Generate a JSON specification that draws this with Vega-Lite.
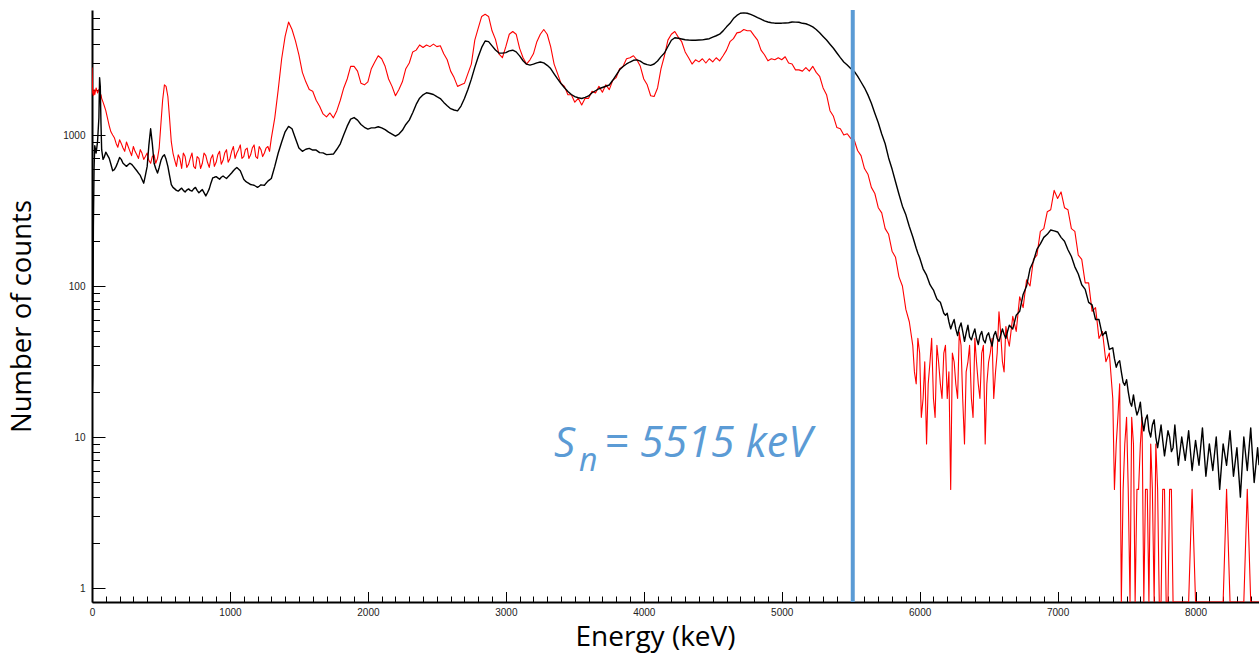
{
"$schema": "https://vega.github.io/schema/vega-lite/v6.json",
"width": 1167,
"height": 592,
"autosize": {"type": "none"},
"padding": {"left": 92, "top": 10, "right": 0, "bottom": 52},
"background": "white",
"config": {"view": {"stroke": null}, "axis": {"grid": false}},
"data": {"values": [
{"e":0,"r":2800,"b":16},{"e":5,"r":1900,"b":25},{"e":10,"r":1830,"b":250},{"e":15,"r":2000,"b":600},{"e":20,"r":1850,"b":850},{"e":30,"r":2050,"b":760},{"e":40,"r":1900,"b":900},{"e":50,"r":2000,"b":1300},{"e":55,"r":1950,"b":2400},{"e":60,"r":1800,"b":2100},{"e":65,"r":1850,"b":1200},{"e":70,"r":1750,"b":800},{"e":80,"r":1650,"b":690},{"e":90,"r":1550,"b":720},{"e":100,"r":1450,"b":770},
{"e":125,"r":1150,"b":700},{"e":150,"r":1000,"b":580},{"e":175,"r":880,"b":620},{"e":200,"r":930,"b":710},{"e":225,"r":820,"b":650},{"e":250,"r":900,"b":620},{"e":275,"r":780,"b":650},{"e":300,"r":840,"b":620},{"e":325,"r":740,"b":580},{"e":350,"r":800,"b":540},{"e":375,"r":690,"b":480},{"e":400,"r":760,"b":620},{"e":425,"r":650,"b":1100},{"e":450,"r":740,"b":650},{"e":475,"r":700,"b":560},{"e":500,"r":1200,"b":680},{"e":525,"r":2150,"b":740},{"e":550,"r":1800,"b":620},{"e":575,"r":900,"b":470},{"e":600,"r":680,"b":440},
{"e":137,"r":1050,"b":640},{"e":162,"r":960,"b":590},{"e":187,"r":830,"b":660},{"e":212,"r":880,"b":690},{"e":237,"r":780,"b":635},{"e":262,"r":840,"b":635},{"e":287,"r":730,"b":640},{"e":312,"r":780,"b":600},{"e":337,"r":700,"b":560},{"e":362,"r":760,"b":510},{"e":387,"r":720,"b":540},{"e":412,"r":680,"b":850},{"e":437,"r":720,"b":880},{"e":462,"r":650,"b":600},{"e":487,"r":820,"b":610},{"e":512,"r":1700,"b":720},{"e":537,"r":2100,"b":690},{"e":562,"r":1300,"b":540},{"e":587,"r":760,"b":450},
{"e":625,"r":740,"b":425},{"e":650,"r":600,"b":445},{"e":675,"r":720,"b":420},{"e":700,"r":640,"b":440},{"e":725,"r":760,"b":425},{"e":750,"r":600,"b":450},{"e":775,"r":700,"b":415},{"e":800,"r":650,"b":435},{"e":825,"r":730,"b":395},{"e":850,"r":610,"b":440},{"e":875,"r":740,"b":520},{"e":900,"r":660,"b":530},{"e":925,"r":780,"b":510},{"e":950,"r":680,"b":535},{"e":975,"r":800,"b":515},{"e":1000,"r":700,"b":545},
{"e":612,"r":620,"b":430},{"e":637,"r":700,"b":435},{"e":662,"r":760,"b":430},{"e":687,"r":610,"b":432},{"e":712,"r":700,"b":430},{"e":737,"r":620,"b":440},{"e":762,"r":720,"b":430},{"e":787,"r":600,"b":425},{"e":812,"r":760,"b":415},{"e":837,"r":660,"b":415},{"e":862,"r":700,"b":480},{"e":887,"r":620,"b":525},{"e":912,"r":740,"b":520},{"e":937,"r":640,"b":525},{"e":962,"r":760,"b":525},{"e":987,"r":660,"b":530},
{"e":1012,"r":780,"b":560},{"e":1037,"r":700,"b":595},{"e":1062,"r":800,"b":595},{"e":1087,"r":700,"b":545},{"e":1112,"r":800,"b":495},{"e":1137,"r":700,"b":478},{"e":1162,"r":820,"b":468},{"e":1187,"r":720,"b":458},{"e":1212,"r":840,"b":458},{"e":1237,"r":720,"b":466},{"e":1262,"r":820,"b":480},{"e":1287,"r":780,"b":505},
{"e":1025,"r":840,"b":580},{"e":1050,"r":760,"b":610},{"e":1075,"r":860,"b":580},{"e":1100,"r":720,"b":510},{"e":1125,"r":820,"b":485},{"e":1150,"r":740,"b":470},{"e":1175,"r":860,"b":465},{"e":1200,"r":700,"b":450},{"e":1225,"r":800,"b":468},{"e":1250,"r":760,"b":465},{"e":1275,"r":840,"b":495},{"e":1300,"r":950,"b":515},{"e":1325,"r":1300,"b":620},{"e":1350,"r":2000,"b":760},{"e":1375,"r":3200,"b":900},{"e":1400,"r":4500,"b":1050},
{"e":1425,"r":5600,"b":1140},{"e":1450,"r":5000,"b":1100},{"e":1475,"r":4200,"b":950},{"e":1500,"r":3400,"b":820},{"e":1525,"r":2600,"b":780},{"e":1550,"r":2250,"b":805},{"e":1575,"r":2000,"b":815},{"e":1600,"r":1950,"b":795},{"e":1625,"r":1700,"b":795},{"e":1650,"r":1550,"b":765},{"e":1675,"r":1380,"b":762},{"e":1700,"r":1320,"b":742},{"e":1725,"r":1400,"b":745},{"e":1750,"r":1300,"b":748},{"e":1775,"r":1450,"b":805},{"e":1800,"r":1700,"b":875},
{"e":1825,"r":2050,"b":1005},{"e":1850,"r":2350,"b":1145},{"e":1875,"r":2850,"b":1275},{"e":1900,"r":2850,"b":1305},{"e":1925,"r":2650,"b":1255},{"e":1950,"r":2200,"b":1175},{"e":1975,"r":2150,"b":1125},{"e":2000,"r":2250,"b":1095},{"e":2025,"r":2750,"b":1115},{"e":2050,"r":3050,"b":1115},{"e":2075,"r":3350,"b":1135},{"e":2100,"r":3200,"b":1115},{"e":2125,"r":2850,"b":1085},{"e":2150,"r":2350,"b":1045},{"e":2175,"r":2100,"b":1015},{"e":2200,"r":1820,"b":985},
{"e":2225,"r":2000,"b":1015},{"e":2250,"r":2250,"b":1075},{"e":2275,"r":2750,"b":1175},{"e":2300,"r":3000,"b":1255},{"e":2325,"r":3550,"b":1405},{"e":2350,"r":3650,"b":1595},{"e":2375,"r":3950,"b":1755},{"e":2400,"r":3800,"b":1845},{"e":2425,"r":3950,"b":1905},{"e":2450,"r":3850,"b":1885},{"e":2475,"r":4000,"b":1855},{"e":2500,"r":3850,"b":1795},{"e":2525,"r":3900,"b":1745},{"e":2550,"r":3450,"b":1645},{"e":2575,"r":3150,"b":1565},{"e":2600,"r":2650,"b":1495},
{"e":2625,"r":2400,"b":1465},{"e":2650,"r":2100,"b":1445},{"e":2675,"r":2150,"b":1555},{"e":2700,"r":2200,"b":1745},{"e":2725,"r":2550,"b":2005},{"e":2750,"r":2950,"b":2345},{"e":2775,"r":4250,"b":2805},{"e":2800,"r":5100,"b":3295},{"e":2825,"r":6100,"b":3805},{"e":2850,"r":6300,"b":4195},{"e":2875,"r":6100,"b":4155},{"e":2900,"r":4900,"b":3895},{"e":2925,"r":4300,"b":3655},{"e":2950,"r":3450,"b":3495},{"e":2975,"r":3250,"b":3485},{"e":3000,"r":3850,"b":3515},
{"e":3025,"r":4650,"b":3605},{"e":3050,"r":4850,"b":3645},{"e":3075,"r":4650,"b":3555},{"e":3100,"r":3750,"b":3345},{"e":3125,"r":3250,"b":3105},{"e":3150,"r":2950,"b":2945},{"e":3175,"r":3150,"b":2905},{"e":3200,"r":3450,"b":2945},{"e":3225,"r":4150,"b":3005},{"e":3250,"r":4650,"b":3045},{"e":3275,"r":5000,"b":3005},{"e":3300,"r":4650,"b":2895},{"e":3325,"r":3850,"b":2755},{"e":3350,"r":2950,"b":2545},{"e":3375,"r":2550,"b":2355},{"e":3400,"r":2200,"b":2195},
{"e":3425,"r":2100,"b":2055},{"e":3450,"r":1850,"b":1945},{"e":3475,"r":1850,"b":1855},{"e":3500,"r":1650,"b":1795},{"e":3525,"r":1750,"b":1765},{"e":3550,"r":1580,"b":1745},{"e":3575,"r":1750,"b":1775},{"e":3600,"r":1750,"b":1815},{"e":3625,"r":1950,"b":1905},{"e":3650,"r":1900,"b":1965},{"e":3675,"r":2100,"b":2025},{"e":3700,"r":1920,"b":2065},{"e":3725,"r":2150,"b":2105},{"e":3750,"r":2000,"b":2145},{"e":3775,"r":2300,"b":2305},{"e":3800,"r":2400,"b":2495},
{"e":3825,"r":2750,"b":2705},{"e":3850,"r":2850,"b":2845},{"e":3875,"r":3200,"b":2955},{"e":3900,"r":3250,"b":3045},{"e":3925,"r":3350,"b":3125},{"e":3950,"r":3150,"b":3145},{"e":3975,"r":2850,"b":3085},{"e":4000,"r":2350,"b":2975},{"e":4025,"r":2150,"b":2925},{"e":4050,"r":1820,"b":2895},{"e":4075,"r":1800,"b":2955},{"e":4100,"r":2050,"b":3095},{"e":4125,"r":2750,"b":3305},{"e":4150,"r":3350,"b":3495},{"e":4175,"r":4250,"b":3855},{"e":4200,"r":4650,"b":4245},
{"e":4225,"r":4850,"b":4405},{"e":4250,"r":4450,"b":4375},{"e":4275,"r":4150,"b":4325},{"e":4300,"r":3550,"b":4275},{"e":4325,"r":3250,"b":4255},{"e":4350,"r":2950,"b":4245},{"e":4375,"r":3150,"b":4245},{"e":4400,"r":3050,"b":4255},{"e":4425,"r":3200,"b":4265},{"e":4450,"r":3000,"b":4305},{"e":4475,"r":3200,"b":4345},{"e":4500,"r":3050,"b":4455},{"e":4525,"r":3250,"b":4545},{"e":4550,"r":3100,"b":4655},{"e":4575,"r":3350,"b":4895},{"e":4600,"r":3650,"b":5205},
{"e":4625,"r":4150,"b":5495},{"e":4650,"r":4350,"b":5905},{"e":4675,"r":4750,"b":6195},{"e":4700,"r":4800,"b":6405},{"e":4725,"r":5000,"b":6445},{"e":4750,"r":4900,"b":6405},{"e":4775,"r":4900,"b":6295},{"e":4800,"r":4550,"b":6155},{"e":4825,"r":4250,"b":5995},{"e":4850,"r":3650,"b":5855},{"e":4875,"r":3400,"b":5695},{"e":4900,"r":3100,"b":5605},{"e":4925,"r":3200,"b":5545},{"e":4950,"r":3150,"b":5505},{"e":4975,"r":3250,"b":5495},{"e":5000,"r":3150,"b":5505},
{"e":5025,"r":3300,"b":5525},{"e":5050,"r":3000,"b":5545},{"e":5075,"r":2950,"b":5605},{"e":5100,"r":2700,"b":5595},{"e":5125,"r":2700,"b":5585},{"e":5150,"r":2650,"b":5495},{"e":5175,"r":2800,"b":5455},{"e":5200,"r":2650,"b":5345},{"e":5225,"r":2850,"b":5205},{"e":5250,"r":2600,"b":4995},{"e":5275,"r":2450,"b":4755},{"e":5300,"r":2050,"b":4495},{"e":5325,"r":1850,"b":4255},{"e":5350,"r":1450,"b":3995},{"e":5375,"r":1330,"b":3755},{"e":5400,"r":1120,"b":3495},
{"e":5425,"r":1100,"b":3255},{"e":5450,"r":1000,"b":3045},{"e":5475,"r":1020,"b":2905},{"e":5500,"r":950,"b":2755},{"e":5525,"r":930,"b":2645},{"e":5550,"r":790,"b":2455},{"e":5575,"r":730,"b":2245},{"e":5600,"r":600,"b":2055},{"e":5625,"r":550,"b":1845},{"e":5650,"r":450,"b":1625},{"e":5675,"r":410,"b":1395},{"e":5700,"r":330,"b":1205},{"e":5725,"r":305,"b":1015},{"e":5750,"r":240,"b":875},{"e":5775,"r":220,"b":705},{"e":5800,"r":170,"b":595},
{"e":5825,"r":155,"b":490},{"e":5850,"r":115,"b":405},{"e":5875,"r":100,"b":338},{"e":5900,"r":70,"b":296},{"e":5925,"r":58,"b":248},{"e":5950,"r":40.5,"b":212},{"e":5975,"r":22.5,"b":178},{"e":6000,"r":36,"b":154},{"e":6025,"r":18,"b":130},{"e":6050,"r":9,"b":118},{"e":6075,"r":31.5,"b":102},{"e":6100,"r":18,"b":94},{"e":6125,"r":40.5,"b":82},{"e":6150,"r":22.5,"b":78},{"e":6175,"r":36,"b":66},{"e":6200,"r":18,"b":66},
{"e":5962,"r":27,"b":195},{"e":5987,"r":45,"b":165},{"e":6012,"r":13.5,"b":142},{"e":6037,"r":31.5,"b":124},{"e":6062,"r":22.5,"b":110},{"e":6087,"r":45,"b":98},{"e":6112,"r":13.5,"b":88},{"e":6137,"r":31.5,"b":80},{"e":6162,"r":18,"b":72},{"e":6187,"r":40.5,"b":64},{"e":6212,"r":27,"b":58},{"e":6237,"r":36,"b":56},{"e":6262,"r":22.5,"b":52},{"e":6287,"r":49.5,"b":53},{"e":6312,"r":18,"b":50},{"e":6337,"r":27,"b":49},
{"e":6362,"r":40.5,"b":46},{"e":6387,"r":13.5,"b":48},{"e":6412,"r":31.5,"b":45},{"e":6437,"r":18,"b":47},{"e":6462,"r":40.5,"b":44},{"e":6487,"r":22.5,"b":47},{"e":6512,"r":36,"b":44},{"e":6537,"r":18,"b":47},{"e":6562,"r":36,"b":45},{"e":6587,"r":49.5,"b":47},{"e":6612,"r":27,"b":48},{"e":6637,"r":45,"b":50},
{"e":6225,"r":4.5,"b":52},{"e":6250,"r":31.5,"b":60},{"e":6275,"r":18,"b":47},{"e":6300,"r":40.5,"b":57},{"e":6325,"r":9,"b":43},{"e":6350,"r":31.5,"b":55},{"e":6375,"r":18,"b":44},{"e":6400,"r":45,"b":52},{"e":6425,"r":22.5,"b":41},{"e":6450,"r":36,"b":50},{"e":6475,"r":9,"b":42},{"e":6500,"r":31.5,"b":49},{"e":6525,"r":45,"b":40},{"e":6550,"r":27,"b":50},{"e":6575,"r":67.5,"b":43},{"e":6600,"r":31.5,"b":52},
{"e":6625,"r":54,"b":45},{"e":6650,"r":40,"b":55},{"e":6675,"r":63,"b":52},{"e":6700,"r":50,"b":64},{"e":6725,"r":85,"b":68},{"e":6750,"r":72,"b":88},{"e":6775,"r":110,"b":100},{"e":6800,"r":100,"b":130},{"e":6825,"r":150,"b":146},{"e":6850,"r":160,"b":175},{"e":6875,"r":230,"b":190},{"e":6900,"r":240,"b":210},{"e":6925,"r":310,"b":220},{"e":6950,"r":320,"b":235},{"e":6975,"r":430,"b":232},{"e":7000,"r":380,"b":228},
{"e":7025,"r":420,"b":210},{"e":7050,"r":330,"b":198},{"e":7075,"r":320,"b":174},{"e":7100,"r":240,"b":157},{"e":7125,"r":230,"b":134},{"e":7150,"r":160,"b":120},{"e":7175,"r":150,"b":102},{"e":7200,"r":105,"b":95},{"e":7225,"r":105,"b":78},{"e":7250,"r":68,"b":75},{"e":7275,"r":72,"b":60},{"e":7300,"r":45,"b":60},{"e":7325,"r":50,"b":47},{"e":7350,"r":31.5,"b":50},{"e":7375,"r":36,"b":38},{"e":7400,"r":18,"b":39},
{"e":7412,"r":4.5,"b":33},{"e":7437,"r":13.5,"b":31},{"e":7462,"r":0.5,"b":27},{"e":7487,"r":9,"b":22},{"e":7512,"r":4.5,"b":20},{"e":7537,"r":13.5,"b":16},{"e":7562,"r":0.5,"b":16},{"e":7587,"r":4.5,"b":15},{"e":7612,"r":13.5,"b":13},{"e":7637,"r":4.5,"b":13},{"e":7662,"r":0.5,"b":11},{"e":7687,"r":4.5,"b":12},{"e":7712,"r":9,"b":10},{"e":7737,"r":0.5,"b":10},{"e":7762,"r":4.5,"b":9.5},{"e":7787,"r":0.5,"b":9},{"e":7812,"r":4.5,"b":10},{"e":7837,"r":0.5,"b":8.5},
{"e":7425,"r":9,"b":29},{"e":7450,"r":22.5,"b":32},{"e":7475,"r":4.5,"b":23},{"e":7500,"r":13.5,"b":24},{"e":7525,"r":0.5,"b":17},{"e":7550,"r":9,"b":19},{"e":7575,"r":4.5,"b":14},{"e":7600,"r":9,"b":17},{"e":7625,"r":0.5,"b":11},{"e":7650,"r":4.5,"b":14},{"e":7675,"r":9,"b":10},{"e":7700,"r":0.5,"b":13},{"e":7725,"r":4.5,"b":8.5},{"e":7750,"r":0.5,"b":12},{"e":7775,"r":4.5,"b":7.5},{"e":7800,"r":0.5,"b":11},
{"e":7825,"r":4.5,"b":8},{"e":7850,"r":0.5,"b":12},{"e":7875,"r":0.5,"b":6.5},{"e":7900,"r":0.5,"b":10},{"e":7925,"r":0.5,"b":7},{"e":7950,"r":0.5,"b":11},{"e":7975,"r":4.5,"b":6},{"e":8000,"r":0.5,"b":9.5},{"e":8025,"r":0.5,"b":6.5},{"e":8050,"r":0.5,"b":11.5},{"e":8075,"r":0.5,"b":5.5},{"e":8100,"r":0.5,"b":9},{"e":8125,"r":0.5,"b":6},{"e":8150,"r":0.5,"b":10},{"e":8175,"r":0.5,"b":4.5},{"e":8200,"r":0.5,"b":9},
{"e":8225,"r":4.5,"b":6.5},{"e":8250,"r":0.5,"b":11},{"e":8275,"r":0.5,"b":5.5},{"e":8300,"r":0.5,"b":8.5},{"e":8325,"r":0.5,"b":4},{"e":8350,"r":0.5,"b":10},{"e":8375,"r":4.5,"b":6},{"e":8400,"r":0.5,"b":11.5},{"e":8425,"r":0.5,"b":5},{"e":8450,"r":0.5,"b":8.5},{"e":8460,"r":0.5,"b":6.5}
]},
"layer": [
{
"mark": {"type": "line", "color": "#ff0000", "strokeWidth": 1.1, "strokeJoin": "round", "clip": true},
"encoding": {
"x": {"field": "e", "type": "quantitative",
"scale": {"domain": [0, 8460], "nice": false, "zero": false},
"axis": {"orient": "bottom", "values": [0,1000,2000,3000,4000,5000,6000,7000,8000], "format": "d",
"tickSize": -10.5, "tickColor": "black", "tickWidth": 1, "domainColor": "black", "domainWidth": 2,
"labelFont": "Liberation Sans", "labelFontSize": 10, "labelColor": "#222222", "labelPadding": 16,
"labelFlush": false, "labelOverlap": false, "grid": false,
"title": "Energy (keV)", "titleFont": "Open Sans", "titleFontSize": 28, "titleFontWeight": "normal", "titleColor": "black",
"titleX": 563, "titleY": 35, "titleAlign": "center", "titleBaseline": "middle"}},
"y": {"field": "r", "type": "quantitative",
"scale": {"type": "log", "domain": [0.808, 6730], "nice": false, "clamp": true},
"axis": {"orient": "left", "values": [1,10,100,1000], "format": "d",
"tickSize": -13, "tickColor": "black", "tickWidth": 1, "domainColor": "black", "domainWidth": 2,
"labelFont": "Liberation Sans", "labelFontSize": 10, "labelColor": "#222222", "labelPadding": 20,
"labelOverlap": false, "grid": false,
"title": "Number of counts", "titleFont": "Open Sans", "titleFontSize": 27.5, "titleFontWeight": "normal", "titleColor": "black",
"titleX": -70, "titleY": 306, "titleAlign": "center", "titleBaseline": "middle"}}
}
},
{
"mark": {"type": "line", "color": "#000000", "strokeWidth": 1.4, "strokeJoin": "round", "clip": true},
"encoding": {
"x": {"field": "e", "type": "quantitative",
"scale": {"domain": [0, 8460], "nice": false, "zero": false},
"axis": {"orient": "bottom", "values": [100,200,300,400,500,600,700,800,900,1100,1200,1300,1400,1500,1600,1700,1800,1900,2100,2200,2300,2400,2500,2600,2700,2800,2900,3100,3200,3300,3400,3500,3600,3700,3800,3900,4100,4200,4300,4400,4500,4600,4700,4800,4900,5100,5200,5300,5400,5500,5600,5700,5800,5900,6100,6200,6300,6400,6500,6600,6700,6800,6900,7100,7200,7300,7400,7500,7600,7700,7800,7900,8100,8200,8300,8400],
"labels": false, "domain": false, "tickSize": -6, "tickColor": "black", "tickWidth": 1, "grid": false, "title": null}},
"y": {"field": "b", "type": "quantitative",
"scale": {"type": "log", "domain": [0.808, 6730], "nice": false, "clamp": true},
"axis": {"orient": "left", "values": [2,3,4,5,6,7,8,9,20,30,40,50,60,70,80,90,200,300,400,500,600,700,800,900,2000,3000,4000,5000,6000],
"labels": false, "domain": false, "tickSize": -7.5, "tickColor": "black", "tickWidth": 1, "grid": false, "title": null}}
}
},
{
"data": {"values": [{"sn": 5515}]},
"mark": {"type": "rule", "color": "#5b9bd5", "strokeWidth": 4},
"encoding": {
"x": {"field": "sn", "type": "quantitative", "scale": {"domain": [0, 8460], "nice": false, "zero": false}, "axis": null}
}
},
{
"data": {"values": [{}]},
"mark": {"type": "text", "text": "S", "font": "Open Sans", "fontStyle": "italic", "fontSize": 42, "color": "#5b9bd5", "align": "left", "baseline": "alphabetic"},
"encoding": {
"x": {"datum": 3350, "type": "quantitative", "scale": {"domain": [0, 8460], "nice": false, "zero": false}, "axis": null},
"y": {"datum": 7.37, "type": "quantitative", "scale": {"type": "log", "domain": [0.808, 6730], "nice": false, "clamp": true}, "axis": null}
}
},
{
"data": {"values": [{}]},
"mark": {"type": "text", "text": "n", "font": "Open Sans", "fontStyle": "italic", "fontSize": 32, "color": "#5b9bd5", "align": "left", "baseline": "alphabetic"},
"encoding": {
"x": {"datum": 3530, "type": "quantitative", "scale": {"domain": [0, 8460], "nice": false, "zero": false}, "axis": null},
"y": {"datum": 6.0, "type": "quantitative", "scale": {"type": "log", "domain": [0.808, 6730], "nice": false, "clamp": true}, "axis": null}
}
},
{
"data": {"values": [{}]},
"mark": {"type": "text", "text": "= 5515 keV", "font": "Open Sans", "fontStyle": "italic", "fontSize": 43, "color": "#5b9bd5", "align": "left", "baseline": "alphabetic"},
"encoding": {
"x": {"datum": 3712, "type": "quantitative", "scale": {"domain": [0, 8460], "nice": false, "zero": false}, "axis": null},
"y": {"datum": 7.37, "type": "quantitative", "scale": {"type": "log", "domain": [0.808, 6730], "nice": false, "clamp": true}, "axis": null}
}
}
],
"resolve": {"scale": {"x": "shared", "y": "shared"}, "axis": {"x": "independent", "y": "independent"}}
}
